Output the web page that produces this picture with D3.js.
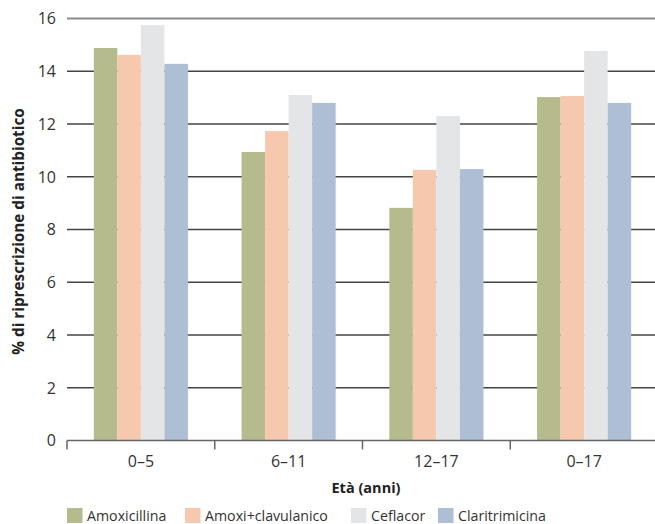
<!DOCTYPE html>
<html>
<head>
<meta charset="utf-8">
<script src="https://cdn.jsdelivr.net/npm/d3@7"></script>
<style>
  html, body { margin: 0; padding: 0; background: #fff; }
  svg { display: block; font-family: "Open Sans", "Noto Sans", sans-serif; }
</style>
</head>
<body>
<svg id="chart" width="655" height="524"></svg>
<script>
// Age groups and antibiotics
const categories = ["0–5", "6–11", "12–17", "0–17"];
const seriesNames = ["Amoxicillina", "Amoxi+clavulanico", "Ceflacor", "Claritrimicina"];
const seriesColors = ["#b5bb8c", "#f6c9af", "#e4e5e7", "#adbed5"];

// % of re-prescription, one array per antibiotic (same order as categories)
const amoxicillina = [14.88, 10.94, 8.82, 13.02];
const amoxiClavulanico = [14.62, 11.73, 10.26, 13.06];
const ceflacor = [15.75, 13.10, 12.30, 14.77];
const claritrimicina = [14.28, 12.80, 10.29, 12.80];

const yTicks = [0, 2, 4, 6, 8, 10, 12, 14, 16];
const yTitle = "% di riprescrizione di antibiotico";
const xTitle = "Età (anni)";

const seriesValues = [amoxicillina, amoxiClavulanico, ceflacor, claritrimicina];

const svg = d3.select("#chart");
const plotLeft = 67, plotRight = 658, plotTop = 18.5, plotBottom = 440.5;

const x0 = d3.scaleBand().domain(categories).range([plotLeft, plotRight]).paddingInner(0).paddingOuter(0);
const x1 = d3.scaleBand().domain(seriesNames).range([0, x0.bandwidth()]).paddingInner(0).paddingOuter(1.14);
const y = d3.scaleLinear().domain([0, 16]).range([plotBottom, plotTop]);

// horizontal gridlines
svg.append("g").selectAll("line")
  .data(yTicks.filter(t => t > 0))
  .join("line")
  .attr("x1", plotLeft).attr("x2", 655)
  .attr("y1", d => y(d)).attr("y2", d => y(d))
  .attr("stroke", d => d === 16 ? "#8a8a8a" : "#444")
  .attr("stroke-width", d => d === 16 ? 2.2 : 1.5);

// y tick labels
svg.append("g").selectAll("text")
  .data(yTicks)
  .join("text")
  .attr("x", 56).attr("y", d => y(d))
  .attr("dy", "0.36em")
  .attr("text-anchor", "end")
  .attr("font-size", 16)
  .attr("fill", "#333")
  .text(d => d);

// bars
const rows = categories.map((c, i) => ({ cat: c, vals: seriesNames.map((s, j) => ({ s, j, v: seriesValues[j][i] })) }));
svg.append("g").selectAll("g")
  .data(rows)
  .join("g")
  .attr("transform", d => `translate(${x0(d.cat)},0)`)
  .selectAll("rect")
  .data(d => d.vals)
  .join("rect")
  .attr("x", d => x1(d.s))
  .attr("width", x1.bandwidth())
  .attr("y", d => y(d.v))
  .attr("height", d => y(0) - y(d.v))
  .attr("fill", d => seriesColors[d.j]);

// x axis
const xAxis = d3.axisBottom(x0).tickSize(0).tickPadding(15);
const gx = svg.append("g").attr("transform", `translate(0,${plotBottom})`).call(xAxis);
gx.select(".domain").remove();
gx.selectAll("text").attr("font-size", 16).attr("fill", "#333").attr("font-family", "Open Sans, Noto Sans, sans-serif");
gx.append("line").attr("x1", plotLeft).attr("x2", 655).attr("y1", 0).attr("y2", 0)
  .attr("stroke", "#666").attr("stroke-width", 1.5);
gx.selectAll(".sep")
  .data(categories)
  .join("line")
  .attr("class", "sep")
  .attr("x1", d => x0(d)).attr("x2", d => x0(d))
  .attr("y1", 0).attr("y2", 9)
  .attr("stroke", "#666").attr("stroke-width", 1.5);

// axis titles
svg.append("text")
  .attr("x", (plotLeft + 655) / 2 + 5).attr("y", 493)
  .attr("text-anchor", "middle")
  .attr("font-size", 14.5).attr("font-weight", "bold").attr("fill", "#222")
  .text(xTitle);

svg.append("text")
  .attr("transform", `translate(24,${(plotTop + plotBottom) / 2 + 2}) rotate(-90)`)
  .attr("text-anchor", "middle")
  .attr("font-size", 15.3).attr("font-weight", "bold").attr("fill", "#222")
  .text(yTitle);

// legend
const legendX = [67, 185, 351, 438];
const lg = svg.append("g").selectAll("g")
  .data(seriesNames)
  .join("g")
  .attr("transform", (d, i) => `translate(${legendX[i]},508)`);
lg.append("rect").attr("width", 15.5).attr("height", 15).attr("fill", (d, i) => seriesColors[i]);
lg.append("text").attr("x", 20).attr("y", 13).attr("font-size", 14.2).attr("fill", "#333").text(d => d);
</script>
</body>
</html>
